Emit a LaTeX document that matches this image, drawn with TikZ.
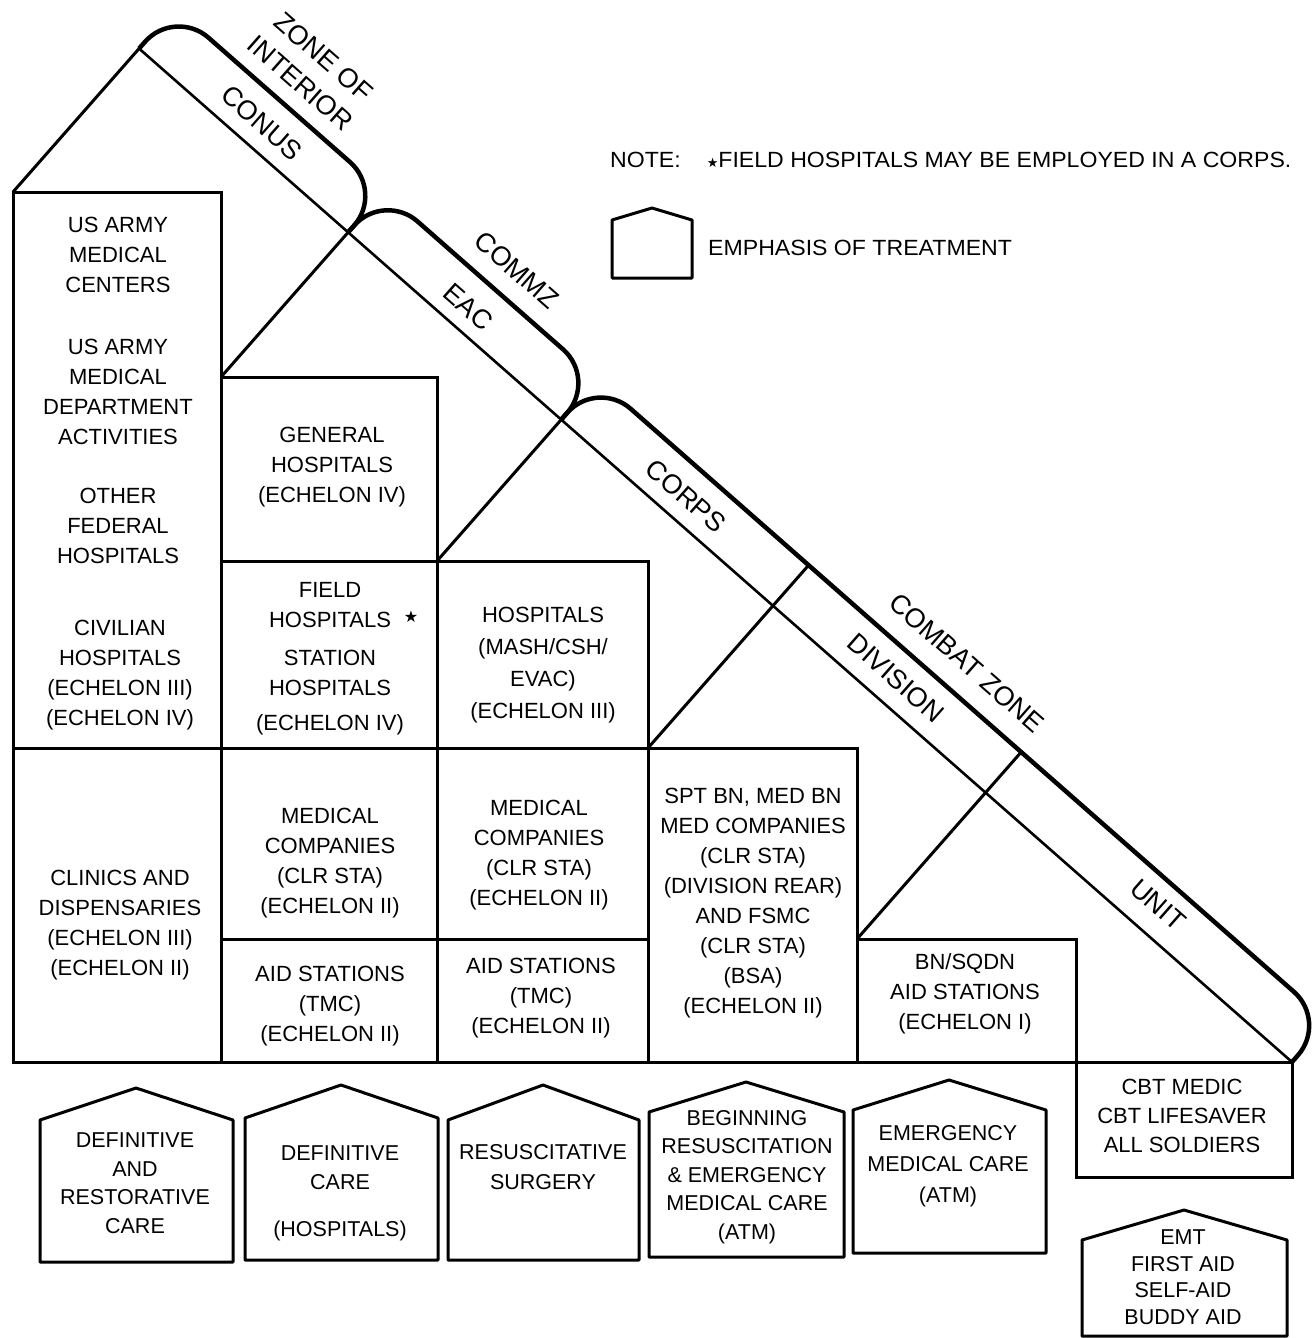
\documentclass[tikz,border=0pt]{standalone}
\usepackage{fontspec}
\setmainfont{Liberation Sans}
\newfontfamily\symfont{DejaVu Sans}
\newfontfamily\notefont[FakeStretch=1.05]{Liberation Sans}
\usetikzlibrary{calc}
\tikzset{
  boxline/.style={line width=3pt, line cap=rect},
  diagline/.style={line width=2.6pt},
  perpline/.style={line width=3pt},
  tabline/.style={line width=4.5pt, rounded corners=45pt},
  houseline/.style={line width=3pt, line join=round},
  txt/.style={font=\fontsize{22}{30}\selectfont, align=center, inner sep=0pt},
  htxt/.style={font=\fontsize{21.5}{28.5}\selectfont, align=center, inner sep=0pt},
  notetxt/.style={font=\notefont\fontsize{22}{30}\selectfont, inner sep=0pt, anchor=west},
  bandtxt/.style={font=\fontsize{27}{35}\selectfont, align=center, rotate=-41.3, inner sep=0pt},
}
\newcommand\fstar{\rlap{\hspace{13pt}\raisebox{5pt}{\symfont\fontsize{16}{16}\selectfont ★}}}
\begin{document}
\begin{tikzpicture}[x=1pt,y=-1pt]
\useasboundingbox (0,0) rectangle (1312,1338);
% staircase corners
\coordinate (A0) at (13,192);
\coordinate (A1) at (221,377);
\coordinate (A2) at (437,561);
\coordinate (A3) at (648,748);
\coordinate (A4) at (857,939);
\coordinate (L0) at (143,52);
\coordinate (E) at (1292,1062);
\coordinate (J0) at ($(L0)!(A0)!(E)$);
\coordinate (J1) at ($(L0)!(A1)!(E)$);
\coordinate (J2) at ($(L0)!(A2)!(E)$);
\coordinate (J3) at ($(L0)!(A3)!(E)$);
\coordinate (J4) at ($(L0)!(A4)!(E)$);
\coordinate (W) at ($(L0)!54pt!90:(E)$);
\coordinate (J0o) at ($(J0)+(W)-(L0)$);
\coordinate (J1o) at ($(J1)+(W)-(L0)$);
\coordinate (J2o) at ($(J2)+(W)-(L0)$);
\coordinate (J3o) at ($(J3)+(W)-(L0)$);
\coordinate (J4o) at ($(J4)+(W)-(L0)$);
\coordinate (Eo) at ($(E)+(W)-(L0)$);
% diagonal and perpendiculars
\draw[diagline] (J0) -- (E);
\draw[perpline] (A0) -- (J0);
\draw[perpline] (A1) -- (J1);
\draw[perpline] (A2) -- (J2);
\draw[perpline] (A3) -- (J3o);
\draw[perpline] (A4) -- (J4o);
% outer tabs
\draw[tabline] (J0) -- (J0o) -- (J1o) -- (J1);
\draw[tabline] (J1) -- (J1o) -- (J2o) -- (J2);
\draw[tabline] (J2) -- (J2o) -- (Eo) -- (E);
% boxes
\draw[boxline] (13,1062) -- (A0) -- (221,192) -- (221,1062);
\draw[boxline] (A1) -- (437,377) -- (437,1062);
\draw[boxline] (221,561) -- (648,561) -- (648,1062);
\draw[boxline] (13,748) -- (857,748) -- (857,1062);
\draw[boxline] (221,939) -- (648,939);
\draw[boxline] (857,939) -- (1076,939) -- (1076,1177) -- (1292,1177) -- (1292,1062);
\draw[boxline] (13,1062) -- (E);
% band labels
\node[bandtxt] (zi) at (312,70) {ZONE OF\\INTERIOR};
\node[bandtxt] (conus) at (262,123) {CONUS};
\node[bandtxt] (commz) at (517,270) {COMMZ};
\node[bandtxt] (eac) at (468,307) {EAC};
\node[bandtxt] (corps) at (686,496) {CORPS};
\node[bandtxt] (cz) at (967,663) {COMBAT ZONE};
\node[bandtxt] (div) at (896,678) {DIVISION};
\node[bandtxt] (unit) at (1158,905) {UNIT};
% box texts
\node[txt] (t1a) at (118,255) {US ARMY\\MEDICAL\\CENTERS};
\node[txt] (t1b) at (118,392) {US ARMY\\MEDICAL\\DEPARTMENT\\ACTIVITIES};
\node[txt] (t1c) at (118,526) {OTHER\\FEDERAL\\HOSPITALS};
\node[txt] (t1d) at (120,675) {CIVILIAN\\HOSPITALS\\(ECHELON III)\\(ECHELON IV)};
\node[txt] (t1e) at (120,925) {CLINICS AND\\DISPENSARIES\\(ECHELON III)\\(ECHELON II)};
\node[txt] (t2a) at (332,467) {GENERAL\\HOSPITALS\\(ECHELON IV)};
\node[txt] (t2b) at (330,659) {FIELD\\HOSPITALS\fstar\\[8pt]STATION\\HOSPITALS\\[5pt](ECHELON IV)};
\node[txt] (t2c) at (330,863) {MEDICAL\\COMPANIES\\(CLR STA)\\(ECHELON II)};
\node[txt] (t2d) at (330,1006) {AID STATIONS\\(TMC)\\(ECHELON II)};
\node[txt, font=\fontsize{22}{32}\selectfont] (t3a) at (543,665) {HOSPITALS\\(MASH/CSH/\\EVAC)\\(ECHELON III)};
\node[txt] (t3b) at (539,855) {MEDICAL\\COMPANIES\\(CLR STA)\\(ECHELON II)};
\node[txt] (t3c) at (541,998) {AID STATIONS\\(TMC)\\(ECHELON II)};
\node[txt] (t4) at (753,903) {SPT BN, MED BN\\MED COMPANIES\\(CLR STA)\\(DIVISION REAR)\\AND FSMC\\(CLR STA)\\(BSA)\\(ECHELON II)};
\node[txt] (t5) at (965,994) {BN/SQDN\\AID STATIONS\\(ECHELON I)};
\node[txt, font=\fontsize{22}{29}\selectfont] (t6) at (1182,1116) {CBT MEDIC\\CBT LIFESAVER\\ALL SOLDIERS};
% emphasis houses
\draw[houseline] (40,1262) -- (40,1120) -- (136,1088) -- (233,1120) -- (233,1262) -- cycle;
\node[htxt] (h1) at (135,1183) {DEFINITIVE\\AND\\RESTORATIVE\\CARE};
\draw[houseline] (245,1260) -- (245,1118) -- (341,1085) -- (438,1118) -- (438,1260) -- cycle;
\node[htxt, font=\fontsize{21.5}{29}\selectfont] (h2) at (340,1193) {DEFINITIVE\\CARE\\[18pt](HOSPITALS)};
\draw[houseline] (448,1260) -- (448,1120) -- (543,1085) -- (639,1120) -- (639,1260) -- cycle;
\node[htxt, font=\fontsize{21.5}{30}\selectfont] (h3) at (543,1167) {RESUSCITATIVE\\SURGERY};
\draw[houseline] (649,1257) -- (649,1112) -- (746,1082) -- (844,1112) -- (844,1257) -- cycle;
\node[htxt] (h4) at (747,1177) {BEGINNING\\RESUSCITATION\\\& EMERGENCY\\MEDICAL CARE\\(ATM)};
\draw[houseline] (853,1253) -- (853,1110) -- (949,1080) -- (1046,1110) -- (1046,1253) -- cycle;
\node[htxt, font=\fontsize{21.5}{31}\selectfont] (h5) at (948,1166) {EMERGENCY\\MEDICAL CARE\\(ATM)};
\draw[houseline] (1082,1336) -- (1082,1240) -- (1184,1210) -- (1287,1240) -- (1287,1336) -- cycle;
\node[htxt, font=\fontsize{21.5}{26.5}\selectfont] (h6) at (1183,1277) {EMT\\FIRST AID\\SELF-AID\\BUDDY AID};
% legend
\node[notetxt] (note) at (610,160) {NOTE:\hspace{26pt}{\symfont\fontsize{13}{13}\selectfont ★}FIELD HOSPITALS MAY BE EMPLOYED IN A CORPS.};
\draw[houseline] (612,278) -- (612,220) -- (652,208) -- (692,220) -- (692,278) -- cycle;
\node[notetxt] (emph) at (708,248) {EMPHASIS OF TREATMENT};
\end{tikzpicture}
\end{document}
